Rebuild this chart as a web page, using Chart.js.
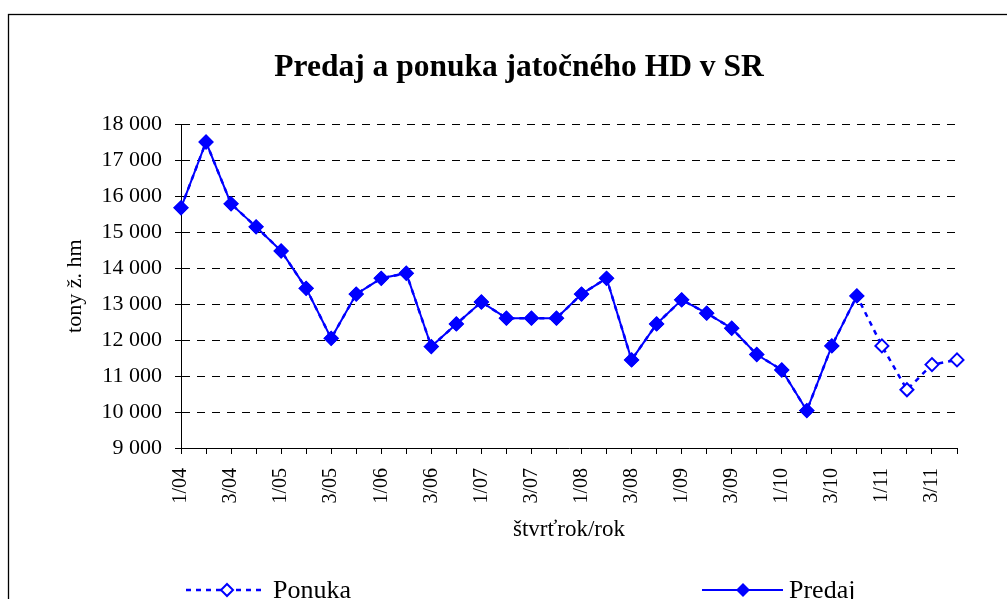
<!DOCTYPE html>
<html>
<head>
<meta charset="utf-8">
<script src="https://cdn.jsdelivr.net/npm/chart.js@4/dist/chart.umd.min.js"></script>
<style>
html,body{margin:0;padding:0;background:#fff;}
#wrap{width:1007px;height:599px;}
</style>
</head>
<body>
<div id="wrap"><canvas id="c" width="1007" height="599"></canvas></div>
<script>
const categories = ['1/04','2/04','3/04','4/04','1/05','2/05','3/05','4/05',
  '1/06','2/06','3/06','4/06','1/07','2/07','3/07','4/07',
  '1/08','2/08','3/08','4/08','1/09','2/09','3/09','4/09',
  '1/10','2/10','3/10','4/10','1/11','2/11','3/11','4/11'];
const predaj = [15680,17510,15790,15150,14480,13440,12050,13280,
  13720,13860,11820,12450,13060,12610,12610,12610,
  13280,13720,11450,12450,13120,12750,12330,11600,
  11170,10040,11840,13230];
const ponuka = [15680,17510,15790,15150,14480,13440,12050,13280,
  13720,13860,11820,12450,13060,12610,12610,12610,
  13280,13720,11450,12450,13120,12750,12330,11600,
  11170,10040,11840,13230,11840,10620,11320,11450];
const yMin = 9000, yMax = 18000, yStep = 1000;
const seriesNames = ['Ponuka','Predaj'];
const chartTitle = 'Predaj a ponuka jatočného HD v SR';
const xTitle = 'štvrťrok/rok';
const yTitle = 'tony ž. hm';

const BLUE = '#0000FF';
const SERIF = "'Liberation Serif', 'Times New Roman', serif";
Chart.defaults.font.family = SERIF;
Chart.defaults.color = '#000';

const fmt = v => String(v).replace(/\B(?=(\d{3})+(?!\d))/g, ' ');

const framePlugin = {
  id: 'frame',
  beforeDraw(chart) {
    const ctx = chart.ctx;
    ctx.save();
    ctx.fillStyle = '#fff';
    ctx.fillRect(0, 0, chart.width, chart.height);
    ctx.strokeStyle = '#000';
    ctx.lineWidth = 1.3;
    ctx.strokeRect(8.5, 14.5, 1100, 700);
    // chart title
    ctx.fillStyle = '#000';
    ctx.font = 'bold 31.5px ' + SERIF;
    ctx.textAlign = 'center';
    ctx.textBaseline = 'alphabetic';
    ctx.fillText(chartTitle, 519, 76);
    ctx.restore();
  }
};

const legendPlugin = {
  id: 'customLegend',
  afterDraw(chart) {
    const ctx = chart.ctx;
    const y = 590;
    ctx.save();
    // Ponuka
    ctx.strokeStyle = BLUE;
    ctx.lineWidth = 2.5;
    ctx.setLineDash([5, 5]);
    ctx.beginPath(); ctx.moveTo(186, y); ctx.lineTo(264, y); ctx.stroke();
    ctx.setLineDash([]);
    ctx.fillStyle = '#fff';
    ctx.lineWidth = 2;
    ctx.beginPath();
    ctx.moveTo(227, y - 6); ctx.lineTo(233, y); ctx.lineTo(227, y + 6); ctx.lineTo(221, y); ctx.closePath();
    ctx.fill(); ctx.stroke();
    // Predaj
    ctx.lineWidth = 2;
    ctx.beginPath(); ctx.moveTo(702, y); ctx.lineTo(783, y); ctx.stroke();
    ctx.fillStyle = BLUE;
    ctx.beginPath();
    ctx.moveTo(743, y - 7); ctx.lineTo(750, y); ctx.lineTo(743, y + 7); ctx.lineTo(736, y); ctx.closePath();
    ctx.fill();
    ctx.fillStyle = '#000';
    ctx.font = '26px ' + SERIF;
    ctx.textBaseline = 'alphabetic';
    ctx.textAlign = 'left';
    ctx.fillText(seriesNames[0], 273, 598);
    ctx.fillText(seriesNames[1], 789, 598);
    ctx.restore();
  }
};

new Chart(document.getElementById('c'), {
  type: 'line',
  data: {
    labels: categories,
    datasets: [
      {
        label: seriesNames[0],
        data: ponuka,
        order: 2,
        borderColor: BLUE,
        borderWidth: 2.5,
        borderDash: [5, 5],
        pointStyle: 'rectRot',
        pointRadius: 6.5,
        pointBackgroundColor: '#fff',
        pointBorderColor: BLUE,
        pointBorderWidth: 2,
        tension: 0,
        clip: false,
        fill: false
      },
      {
        label: seriesNames[1],
        data: predaj,
        order: 1,
        borderColor: BLUE,
        borderWidth: 2,
        pointStyle: 'rectRot',
        pointRadius: 7,
        pointBackgroundColor: BLUE,
        pointBorderColor: BLUE,
        pointBorderWidth: 1,
        tension: 0,
        clip: false,
        fill: false
      }
    ]
  },
  options: {
    responsive: false,
    animation: false,
    devicePixelRatio: 1,
    layout: { padding: { top: 124.4, left: 0, right: 50, bottom: 0 } },
    plugins: {
      legend: { display: false },
      tooltip: { enabled: false },
      title: { display: false }
    },
    scales: {
      x: {
        type: 'category',
        offset: false,
        afterFit(scale) { scale.height = 151; },
        grid: { display: true, drawOnChartArea: false, drawTicks: true, tickLength: 6, color: '#000', tickColor: '#000' },
        border: { display: true, color: '#000', width: 1 },
        ticks: {
          autoSkip: false,
          maxRotation: 90,
          minRotation: 90,
          padding: 14,
          color: '#000',
          font: { family: SERIF, size: 20 },
          callback: (v, i) => (i % 2 === 0 ? categories[i] : '')
        },
        title: {
          display: true,
          text: xTitle,
          color: '#000',
          font: { family: SERIF, size: 23 },
          padding: { top: 0, bottom: 55 }
        }
      },
      y: {
        min: yMin,
        max: yMax,
        afterFit(scale) { scale.width = 181; },
        grid: {
          display: true,
          drawTicks: true,
          tickLength: 6,
          color: c => (c.tick && c.tick.value === yMin ? 'rgba(0,0,0,0)' : '#000'),
          tickColor: '#000',
          tickBorderDash: []
        },
        border: { display: true, color: '#000', width: 1, dash: [8, 7] },
        ticks: {
          stepSize: yStep,
          padding: 13,
          color: '#000',
          font: { family: SERIF, size: 22 },
          callback: v => fmt(v)
        },
        title: {
          display: true,
          text: yTitle,
          color: '#000',
          font: { family: SERIF, size: 22 },
          padding: { top: 62, bottom: 0 }
        }
      }
    }
  },
  plugins: [framePlugin, legendPlugin]
});
</script>
</body>
</html>
